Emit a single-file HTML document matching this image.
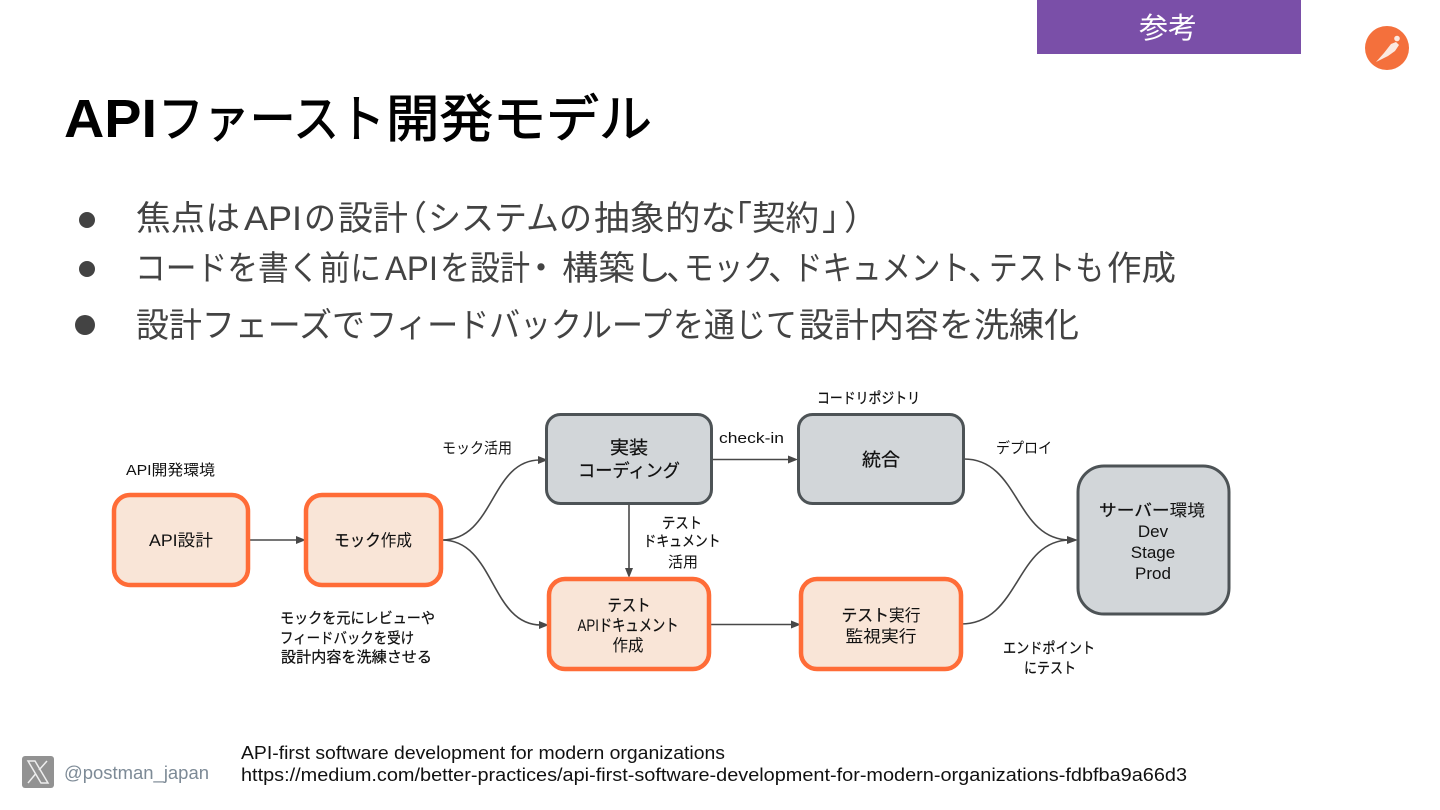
<!DOCTYPE html>
<html lang="ja"><head><meta charset="utf-8"><style>
html,body{margin:0;padding:0;background:#fff;width:1440px;height:810px;overflow:hidden}
svg{display:block}
text{font-family:"Liberation Sans","Noto Sans CJK JP",sans-serif;fill:#111}
.b{font-size:34px;fill:#434343}
.t{font-size:51px;fill:#000;stroke:#000;stroke-width:.9}
.m{font-size:15px;text-anchor:middle}
.n{font-size:16.5px;text-anchor:middle}
.k{stroke:#111;stroke-width:.25}
.o{fill:#f9e5d7;stroke:#ff6c37;stroke-width:4.5}
.g{fill:#d2d6d9;stroke:#4d5356;stroke-width:3}
.c{fill:none;stroke:#484848;stroke-width:1.6}
.a{fill:#484848}
</style></head><body>
<svg width="1440" height="810" viewBox="0 0 1440 810" xmlns="http://www.w3.org/2000/svg">
<rect x="1037" y="0" width="264" height="54" fill="#7a4fa8"/>
<text x="1168" y="38" font-size="29" text-anchor="middle" style="fill:#fff">参考</text>
<circle cx="1387" cy="48" r="22" fill="#f4703c"/>
<path d="M1376 62 L1384 53 L1391 44 L1396 42 L1399 45 L1395 51 L1388 56 Z" fill="#fbe9e0"/>
<circle cx="1397" cy="38.500" r="2.800" fill="#fbe9e0"/>

<text x="64" y="137" font-size="54" font-weight="700" textLength="93" lengthAdjust="spacingAndGlyphs" style="fill:#000">API</text>
<text class="t" x="158" y="137" textLength="227" lengthAdjust="spacingAndGlyphs">ファースト</text>
<text class="t" x="386" y="137" textLength="107" lengthAdjust="spacingAndGlyphs">開発</text>
<text class="t" x="493" y="137" textLength="159" lengthAdjust="spacingAndGlyphs">モデル</text>

<circle cx="87" cy="220" r="8" fill="#434343"/>
<circle cx="87" cy="269" r="8" fill="#434343"/>
<circle cx="85" cy="325" r="10" fill="#434343"/>

<!-- line 1 -->
<text class="b" x="136" y="230" textLength="104" lengthAdjust="spacingAndGlyphs">焦点は</text>
<text class="b" x="244" y="230" textLength="58" lengthAdjust="spacingAndGlyphs">API</text>
<text class="b" x="304" y="230" textLength="32" lengthAdjust="spacingAndGlyphs">の</text>
<text class="b" x="338" y="230" textLength="70" lengthAdjust="spacingAndGlyphs">設計</text>
<text class="b" x="393" y="230">（</text>
<text class="b" x="428" y="230" textLength="164" lengthAdjust="spacingAndGlyphs">システムの</text>
<text class="b" x="594" y="230" textLength="142" lengthAdjust="spacingAndGlyphs">抽象的な</text>
<text class="b" x="718" y="230">「</text>
<text class="b" x="752" y="230" textLength="67" lengthAdjust="spacingAndGlyphs">契約</text>
<text class="b" x="822" y="230">」</text>
<text class="b" x="844" y="230">）</text>

<!-- line 2 -->
<text class="b" x="135" y="280" textLength="246" lengthAdjust="spacingAndGlyphs">コードを書く前に</text>
<text class="b" x="385" y="280" textLength="53" lengthAdjust="spacingAndGlyphs">API</text>
<text class="b" x="440" y="280" textLength="90" lengthAdjust="spacingAndGlyphs">を設計</text>
<text class="b" x="524" y="280">・</text>
<text class="b" x="562" y="280" textLength="109" lengthAdjust="spacingAndGlyphs">構築し</text>
<text class="b" x="666" y="280">、</text>
<text class="b" x="684" y="280" textLength="89" lengthAdjust="spacingAndGlyphs">モック</text>
<text class="b" x="768" y="280">、</text>
<text class="b" x="793" y="280" textLength="177" lengthAdjust="spacingAndGlyphs">ドキュメント</text>
<text class="b" x="968" y="280">、</text>
<text class="b" x="989" y="280" textLength="115" lengthAdjust="spacingAndGlyphs">テストも</text>
<text class="b" x="1107" y="280" textLength="69" lengthAdjust="spacingAndGlyphs">作成</text>

<!-- line 3 -->
<text class="b" x="136" y="337" textLength="229" lengthAdjust="spacingAndGlyphs">設計フェーズで</text>
<text class="b" x="366" y="337" textLength="306" lengthAdjust="spacingAndGlyphs">フィードバックループ</text>
<text class="b" x="673" y="337" textLength="124" lengthAdjust="spacingAndGlyphs">を通じて</text>
<text class="b" x="799" y="337" textLength="280" lengthAdjust="spacingAndGlyphs">設計内容を洗練化</text>

<!-- connectors -->
<path class="c" d="M248 540 H298"/><path class="a" d="M306 540 L296 536 V544Z"/>
<path class="c" d="M442 540 C495 540 490 460 540 460"/><path class="a" d="M548 460 L538 456 V464Z"/>
<path class="c" d="M442 540 C495 540 490 625 541 625"/><path class="a" d="M549 625 L539 621 V629Z"/>
<path class="c" d="M712 459.500 H790"/><path class="a" d="M798 459.500 L788 455.500 V463.500Z"/>
<path class="c" d="M629 505 V570"/><path class="a" d="M629 578 L625 568 H633Z"/>
<path class="c" d="M709 624.500 H792"/><path class="a" d="M801 624.500 L791 620.500 V628.500Z"/>
<path class="c" d="M964 459 C1020 459 1015 540 1070 540"/>
<path class="c" d="M961 624 C1020 624 1015 540 1070 540"/><path class="a" d="M1078 540 L1067 536 V544Z"/>

<!-- nodes -->
<rect class="o" x="114" y="495" width="134" height="90" rx="16"/>
<rect class="o" x="306" y="495" width="135" height="90" rx="16"/>
<rect class="g" x="546.500" y="414.500" width="165" height="89" rx="14"/>
<rect class="g" x="798.500" y="414.500" width="165" height="89" rx="14"/>
<rect class="o" x="549" y="579" width="160" height="90" rx="16"/>
<rect class="o" x="801" y="579" width="160" height="90" rx="16"/>
<rect class="g" x="1078" y="466" width="151" height="148" rx="26"/>

<!-- node labels -->
<text class="n" x="181" y="546" textLength="64" lengthAdjust="spacingAndGlyphs">API設計</text>
<text class="n" x="373" y="546" textLength="78" lengthAdjust="spacingAndGlyphs"><tspan class="k">モック</tspan>作成</text>
<text class="n k" x="629" y="454" textLength="38" lengthAdjust="spacingAndGlyphs" style="font-size:18px">実装</text>
<text class="n k" x="629" y="477" textLength="102" lengthAdjust="spacingAndGlyphs" style="font-size:18px">コーディング</text>
<text class="n k" x="881" y="466" textLength="38" lengthAdjust="spacingAndGlyphs" style="font-size:18px">統合</text>
<text class="n k" x="629" y="611" textLength="43" lengthAdjust="spacingAndGlyphs">テスト</text>
<text class="n" x="628" y="631" textLength="101" lengthAdjust="spacingAndGlyphs">API<tspan class="k">ドキュメント</tspan></text>
<text class="n" x="628" y="651" textLength="31" lengthAdjust="spacingAndGlyphs">作成</text>
<text class="n" x="881" y="621" textLength="79" lengthAdjust="spacingAndGlyphs"><tspan class="k">テスト</tspan>実行</text>
<text class="n" x="881" y="642" textLength="71" lengthAdjust="spacingAndGlyphs">監視実行</text>
<text class="n" x="1152" y="516" textLength="106" lengthAdjust="spacingAndGlyphs"><tspan class="k">サーバー</tspan>環境</text>
<text class="n" x="1153" y="537" style="font-size:17px">Dev</text>
<text class="n" x="1153" y="558" style="font-size:17px">Stage</text>
<text class="n" x="1153" y="579" style="font-size:17px">Prod</text>

<!-- annotations -->
<text x="126" y="475" font-size="15" textLength="89" lengthAdjust="spacingAndGlyphs">API開発環境</text>
<text x="442" y="453" font-size="15" textLength="70" lengthAdjust="spacingAndGlyphs">モック活用</text>
<text x="719" y="443" font-size="15" textLength="65" lengthAdjust="spacingAndGlyphs">check-in</text>
<text class="k" x="817" y="403" font-size="15" textLength="103" lengthAdjust="spacingAndGlyphs">コードリポジトリ</text>
<text x="996" y="453" font-size="15" textLength="56" lengthAdjust="spacingAndGlyphs">デプロイ</text>
<text class="m k" x="682" y="528" textLength="40" lengthAdjust="spacingAndGlyphs">テスト</text>
<text class="m k" x="682" y="546" textLength="77" lengthAdjust="spacingAndGlyphs">ドキュメント</text>
<text class="m" x="683" y="567" textLength="30" lengthAdjust="spacingAndGlyphs">活用</text>
<text class="k" x="280" y="623" font-size="15" textLength="155" lengthAdjust="spacingAndGlyphs">モックを元にレビューや</text>
<text class="k" x="280" y="643" font-size="15" textLength="134" lengthAdjust="spacingAndGlyphs">フィードバックを受け</text>
<text class="k" x="281" y="662" font-size="15" textLength="151" lengthAdjust="spacingAndGlyphs">設計内容を洗練させる</text>
<text class="k" x="1003" y="653" font-size="15" textLength="92" lengthAdjust="spacingAndGlyphs">エンドポイント</text>
<text class="k" x="1024" y="673" font-size="15" textLength="52" lengthAdjust="spacingAndGlyphs">にテスト</text>

<!-- footer -->
<rect x="22" y="756" width="32" height="32" rx="3" fill="#929292"/>
<path d="M28 761 H35 L48 783 H41 Z" fill="none" stroke="#eee" stroke-width="1.500"/>
<path d="M47 761 L39 770 M35.500 774 L28 783" stroke="#eee" stroke-width="1.500" fill="none"/>
<text x="64" y="779" font-size="18" textLength="145" lengthAdjust="spacingAndGlyphs" style="fill:#7d8a96">@postman_japan</text>
<text x="241" y="759" font-size="18" textLength="484" lengthAdjust="spacingAndGlyphs">API-first software development for modern organizations</text>
<text x="241" y="781" font-size="18" textLength="946" lengthAdjust="spacingAndGlyphs">https://medium.com/better-practices/api-first-software-development-for-modern-organizations-fdbfba9a66d3</text>
</svg>
</body></html>
